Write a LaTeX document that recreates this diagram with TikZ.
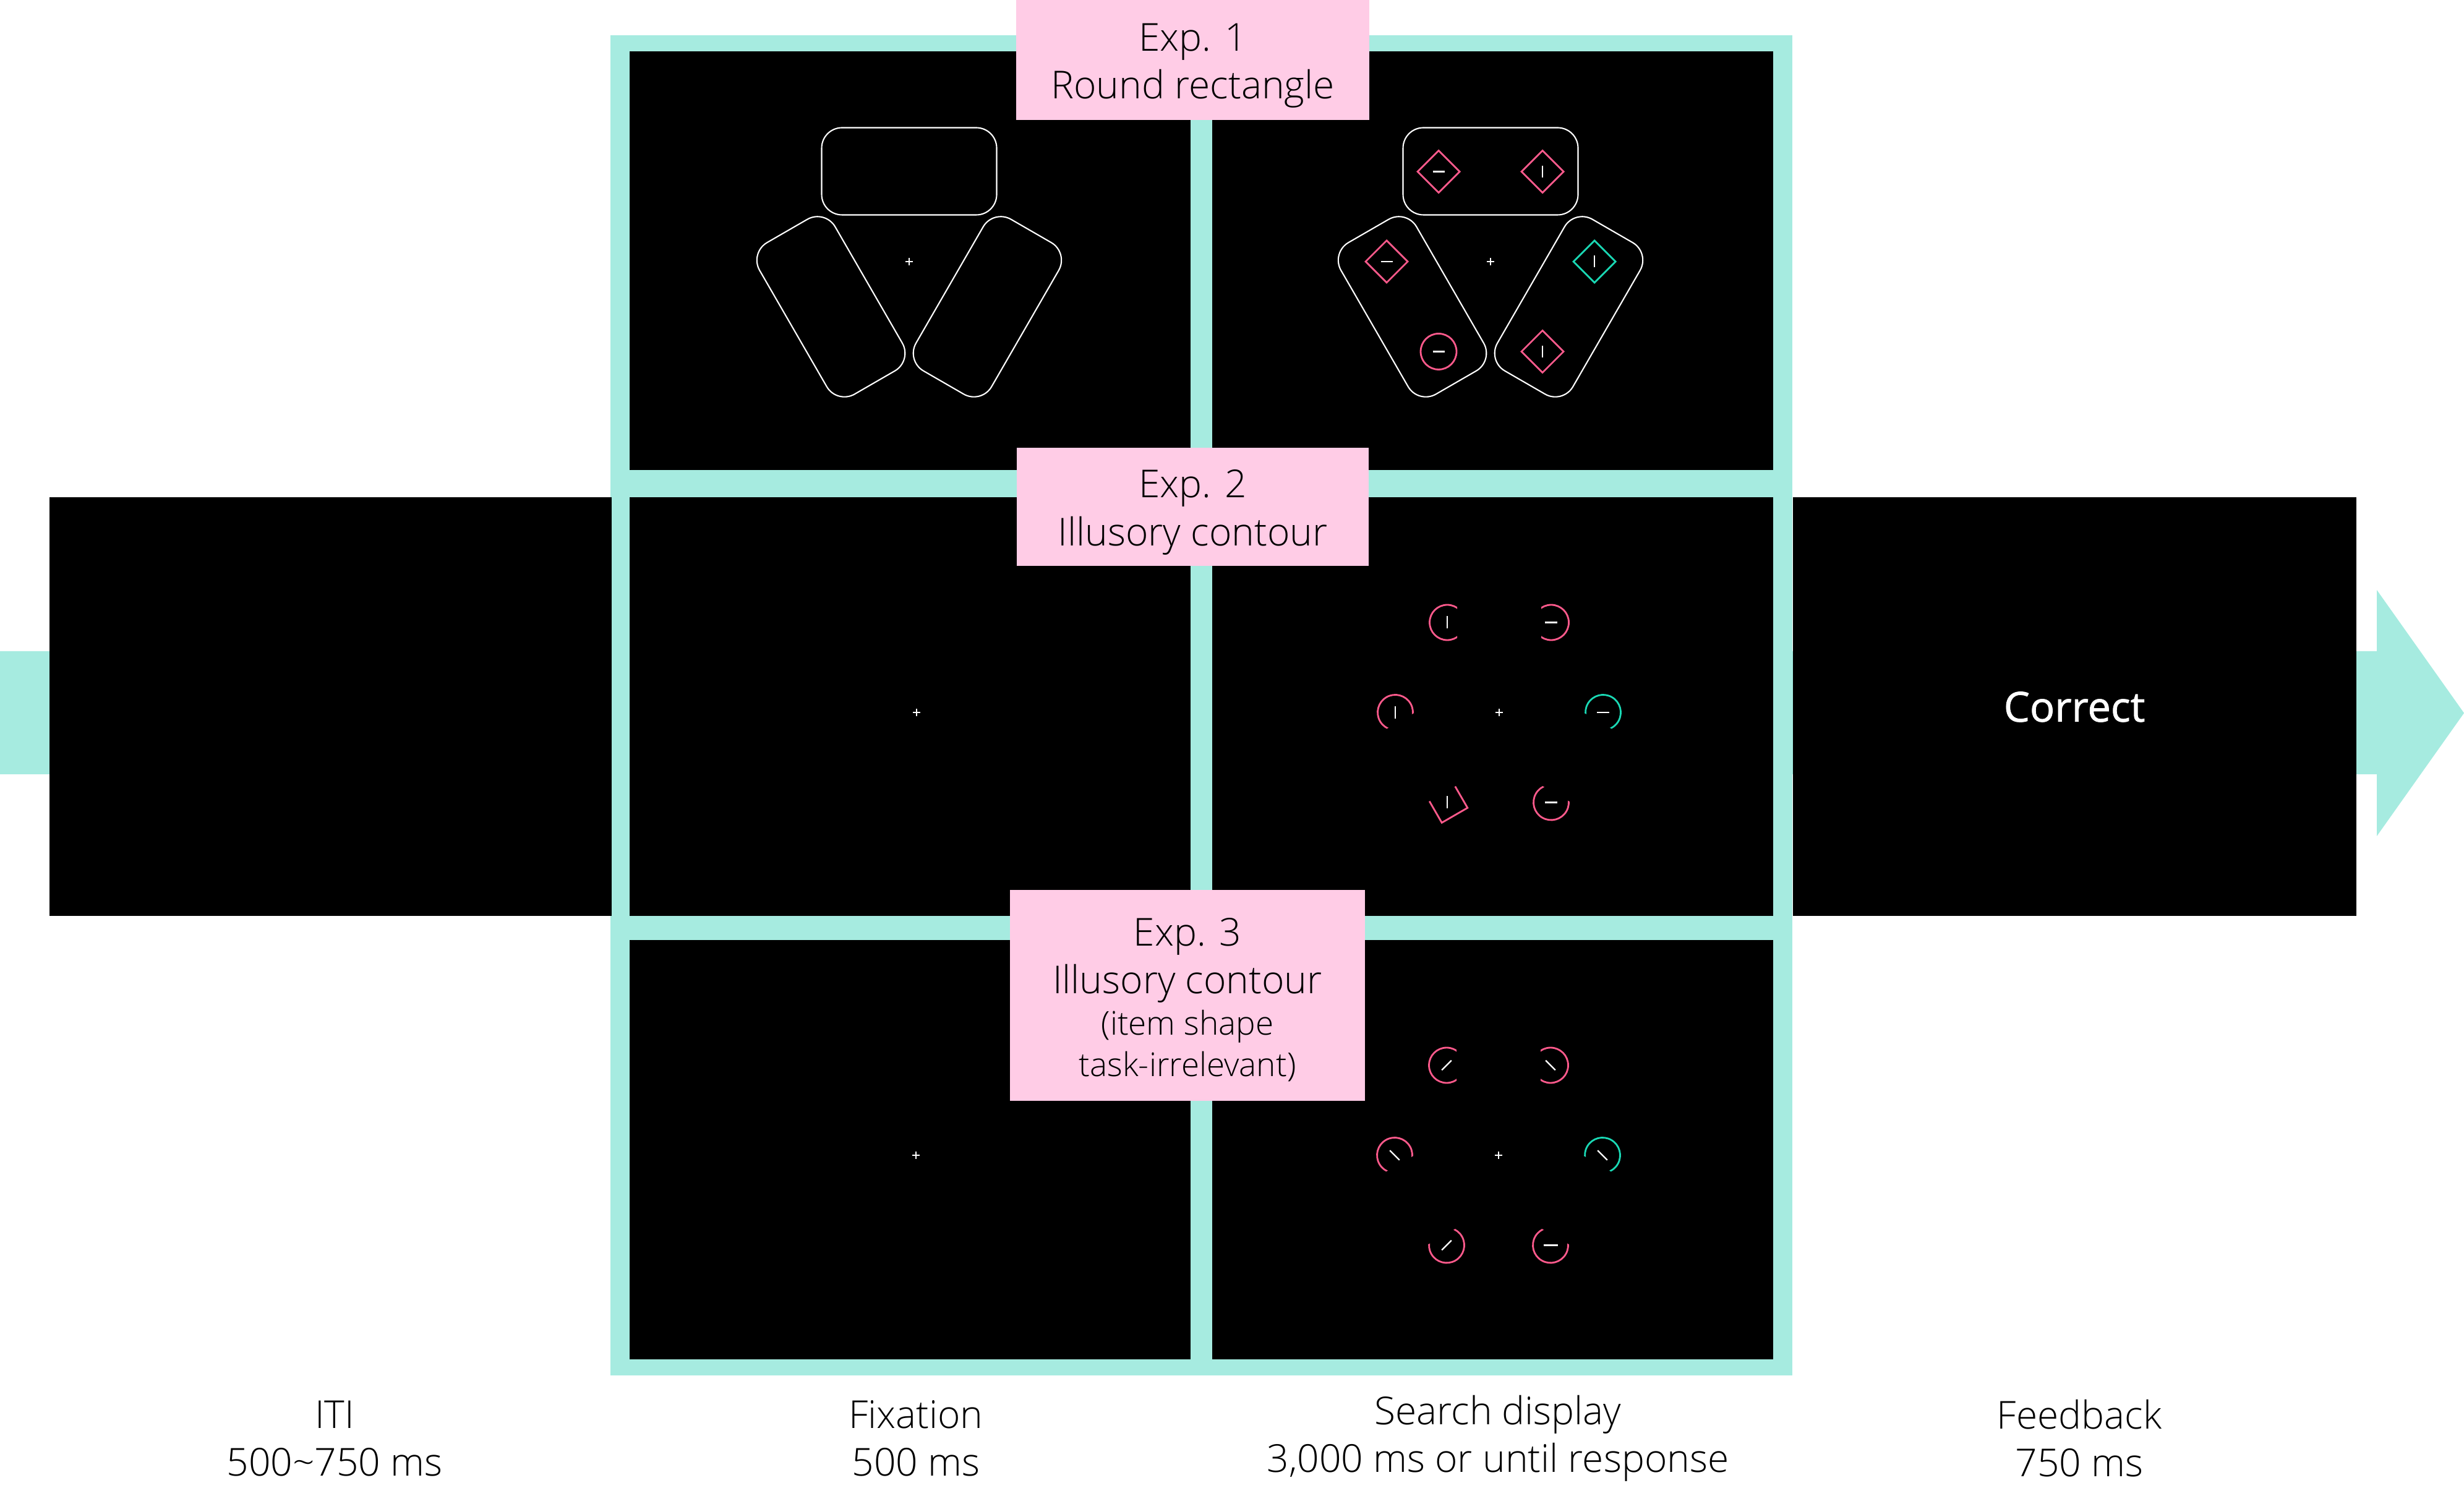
\documentclass[tikz,border=0pt]{standalone}
\usepackage{fontspec}
\IfFontExistsTF{Open Sans Light}{\setmainfont{Open Sans Light}}{\setmainfont{Open Sans}}
\IfFontExistsTF{Open Sans SemiBold}{\newfontfamily\correctface{Open Sans SemiBold}}{\newfontfamily\correctface{Open Sans}[FakeBold=1.2]}
\usepackage{tikz}
\usetikzlibrary{positioning, fit, backgrounds}
\usepackage{xcolor}
\definecolor{framecyan}{HTML}{A6EBE0}
\definecolor{tagpink}{HTML}{FFCCE6}
\definecolor{itempink}{HTML}{FF5A8C}
\definecolor{itemteal}{HTML}{1AD9B5}
\newcommand{\tagfont}{\fontsize{17.7}{22}\selectfont}
\newcommand{\notefont}{\fontsize{15.1}{19}\selectfont}
\newcommand{\correctfont}{\correctface\fontsize{19}{22}\selectfont}

\begin{document}
\begin{tikzpicture}[
    screen/.style={fill=black, minimum width=9.07cm, minimum height=6.77cm,
      inner sep=0pt, outer sep=0pt},
    tag/.style={fill=tagpink, inner sep=0pt},
    tagtext/.style={align=center, inner sep=0pt, font=\tagfont},
    caption/.style={align=center, font=\tagfont},
    outline/.style={draw=white, line width=0.6pt, rounded corners=0.33cm},
    item/.style={line width=0.8pt},
    bar/.style={draw=white, line width=0.65pt},
    fixcross/.style={draw=white, line width=0.4pt},
  ]
    \useasboundingbox (0,0) rectangle (39.84,24.39);

    % --- Screens ---
    \node[screen] (fix1) at (14.71,20.17) {};
    \node[screen, right=0.35cm of fix1]  (search1) {};
    \node[screen, below=0.44cm of fix1]  (fix2)    {};
    \node[screen, right=0.35cm of fix2]  (search2) {};
    \node[screen, below=0.39cm of fix2]  (fix3)    {};
    \node[screen, right=0.35cm of fix3]  (search3) {};
    \node[screen, minimum width=9.09cm, left=0.29cm of fix2] (iti) {};
    \node[screen, minimum width=9.11cm, right=0.32cm of search2,
          text=white, font=\correctfont] (feedback) {Correct};

    % --- Frame and timeline arrow ---
    \begin{scope}[on background layer]
      \fill[framecyan] (0,11.87) -- (38.43,11.87) -- (38.43,10.87) -- (39.84,12.86)
        -- (38.43,14.85) -- (38.43,13.86) -- (0,13.86) -- cycle;
      \node[fill=framecyan, fit=(fix1)(search3), inner xsep=0.31cm,
            inner ysep=0.26cm] (frame) {};
    \end{scope}

    % --- Experiment tags ---
    \node[tag, minimum width=5.71cm, minimum height=1.94cm] (exp1) at (19.285,23.42) {};
    \node[tag, minimum width=5.69cm, minimum height=1.91cm] (exp2) at (19.285,16.195) {};
    \node[tag, minimum width=5.74cm, minimum height=3.41cm] (exp3) at (19.20,8.295) {};
    \node[tagtext] (exp1text) at ([yshift=-0.09cm]exp1.center) {Exp. 1\\Round rectangle};
    \node[tagtext] (exp2text) at ([yshift=-0.09cm]exp2.center) {Exp. 2\\Illusory contour};
    \node[tagtext] (exp3text) at ([yshift=-0.07cm]exp3.center)
      {Exp. 3\\Illusory contour\\[-3pt]{\notefont (item shape}\\[-3pt]{\notefont task-irrelevant)}};

    % --- Fixation points ---
    \coordinate (c1L) at (14.70,20.16);
    \coordinate (c1R) at (24.10,20.16);
    \coordinate (c2L) at (14.82,12.87);
    \coordinate (c2R) at (24.24,12.87);
    \coordinate (c3L) at (14.81,5.71);
    \coordinate (c3R) at (24.23,5.71);
    \foreach \c in {c1L,c1R,c2L,c2R,c3L,c3R}
      \draw[fixcross, shift={(\c)}] (-0.06,0) -- (0.06,0) (0,-0.06) -- (0,0.06);

    % --- Exp. 1: round rectangles ---
    \begin{scope}[shift={(c1L)}]
      \foreach \r in {0,120,240}
        \draw[outline, rotate=\r] (-1.415,0.755) rectangle (1.415,2.165);
    \end{scope}
    \begin{scope}[shift={(c1R)}]
      \foreach \r in {0,120,240}
        \draw[outline, rotate=\r] (-1.415,0.755) rectangle (1.415,2.165);
      \foreach \a/\col in {120/itempink, 60/itempink, 180/itempink, 0/itemteal, 300/itempink}
        \draw[item, draw=\col] (\a:1.68) ++(0.34,0) -- ++(-0.34,0.34) -- ++(-0.34,-0.34)
          -- ++(0.34,-0.34) -- cycle;
      \draw[item, draw=itempink] (240:1.68) circle[radius=0.29];
      \foreach \a/\t in {120/0, 60/90, 180/0, 240/0, 0/90, 300/90}
        \draw[bar] (\a:1.68) ++(\t:-0.095) -- ++(\t:0.19);
    \end{scope}

    % --- Exp. 2: illusory contour ---
    \begin{scope}[shift={(c2R)}]
      \foreach \a/\g/\col in {120/0/itempink, 60/180/itempink, 180/300/itempink,
                              0/240/itemteal, 300/60/itempink}
      {
        \begin{scope}[shift={(\a:1.68)}, rotate=\g]
          \clip (-0.5,-0.5) rectangle (0.16,0.5) (-0.5,0.27) rectangle (0.5,0.5)
            (-0.5,-0.5) rectangle (0.5,-0.27);
          \draw[item, draw=\col] (0,0) circle[radius=0.285];
        \end{scope}
      }
      \begin{scope}[shift={(240:1.68)}, rotate=120]
        \clip (-0.5,-0.5) rectangle (0.16,0.5) (-0.5,0.27) rectangle (0.5,0.5)
          (-0.5,-0.5) rectangle (0.5,-0.27);
        \draw[item, draw=itempink] (-0.24,-0.24) rectangle (0.24,0.24);
      \end{scope}
      \foreach \a/\t in {120/90, 60/0, 180/90, 240/90, 0/0, 300/0}
        \draw[bar] (\a:1.68) ++(\t:-0.1) -- ++(\t:0.2);
    \end{scope}

    % --- Exp. 3: item shape task-irrelevant ---
    \begin{scope}[shift={(c3R)}]
      \foreach \a/\g/\col in {120/0/itempink, 60/180/itempink, 180/300/itempink,
                              240/120/itempink, 0/240/itemteal, 300/60/itempink}
      {
        \begin{scope}[shift={(\a:1.68)}, rotate=\g]
          \clip (-0.5,-0.5) rectangle (0.16,0.5) (-0.5,0.27) rectangle (0.5,0.5)
            (-0.5,-0.5) rectangle (0.5,-0.27);
          \draw[item, draw=\col] (0,0) circle[radius=0.285];
        \end{scope}
      }
      \foreach \a/\t in {120/45, 60/135, 180/135, 240/45, 0/135}
        \draw[bar] (\a:1.68) ++(\t:-0.11) -- ++(\t:0.22);
      \draw[bar, line width=1.1pt] (300:1.68) ++(-0.115,0) -- ++(0.23,0);
    \end{scope}

    % --- Captions ---
    \node[caption] (itilab)      at (5.41,1.13)  {ITI\\500\textasciitilde750 ms};
    \node[caption] (fixlab)      at (14.81,1.13) {Fixation\\500 ms};
    \node[caption] (searchlab)   at (24.22,1.13) {Search display\\3,000 ms or until response};
    \node[caption] (feedbacklab) at (33.62,1.13) {Feedback\\750 ms};
\end{tikzpicture}
\end{document}
